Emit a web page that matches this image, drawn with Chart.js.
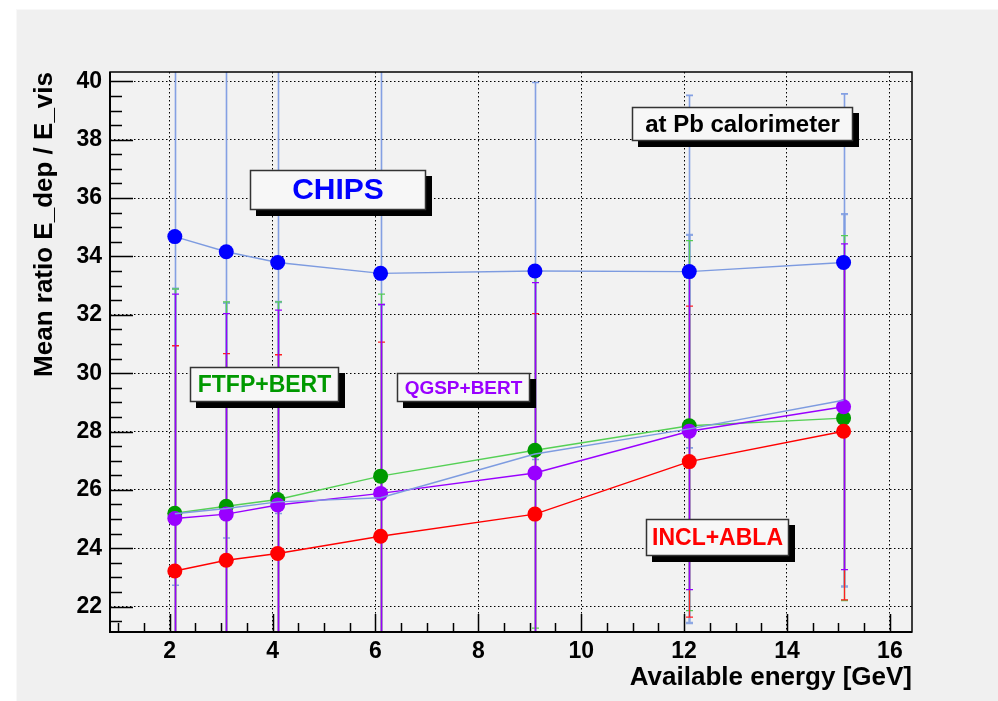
<!DOCTYPE html>
<html>
<head>
<meta charset="utf-8">
<script src="https://cdn.jsdelivr.net/npm/chart.js@4/dist/chart.umd.min.js"></script>
<style>
  html, body { margin: 0; padding: 0; background: #ffffff; }
  #wrap { position: relative; width: 998px; height: 701px; }
  canvas { display: block; }
</style>
</head>
<body>
<div id="wrap"><canvas id="c" width="998" height="701"></canvas></div>
<script>
// Available energy of each measurement point [GeV]
const energies = [2.1, 3.1, 4.1, 6.1, 9.1, 12.1, 15.1];

// Mean ratio E_dep / E_vis per physics list, with the size of the error bars
const chipsValues = [34.68, 34.16, 33.79, 33.42, 33.50, 33.48, 33.79];
const chipsErrors = [11.95, 9.81, 8.60, 7.50, 6.46, 6.04, 5.78];

const ftfpValues = [25.20, 25.44, 25.67, 26.47, 27.36, 28.20, 28.46];
const ftfpErrors = [7.69, 7.00, 6.77, 6.24, 6.10, 6.34, 6.25];

const qgspValues = [25.02, 25.17, 25.48, 25.88, 26.58, 28.01, 28.85];
const qgspErrors = [7.69, 6.87, 6.68, 6.48, 6.52, 5.43, 5.58];

const inclValues = [23.22, 23.59, 23.82, 24.41, 25.17, 26.97, 28.01];
const inclErrors = [7.72, 7.08, 6.81, 6.65, 6.87, 5.33, 5.78];

// Unlabelled reference curve drawn as a thin line only
const refValues = [25.18, 25.36, 25.59, 25.73, 27.23, 28.09, 29.07];
const refErrors = [7.71, 7.05, 6.85, 6.61, 6.30, 6.65, 6.38];

// Axis ranges and tick spacing
const xRange = [0.84, 16.43];
const yRange = [21.13, 40.32];
const majorStep = 2;
const minorStep = 0.5;

// Text panels: label, colour, font size and box in pixels
const panels = [
  { text: 'CHIPS',             color: '#0000ff', size: 30, box: [250, 170, 426, 210] },
  { text: 'at Pb calorimeter', color: '#000000', size: 24, box: [632, 107, 853, 141] },
  { text: 'FTFP+BERT',         color: '#009900', size: 23, box: [190, 367, 339, 402] },
  { text: 'QGSP+BERT',         color: '#9900ff', size: 19, box: [397, 373, 530, 402] },
  { text: 'INCL+ABLA',         color: '#ff0000', size: 23, box: [646, 519, 789, 556] }
];

const FONT = '"Liberation Sans", Arial, Helvetica, sans-serif';

function pts(values) {
  return energies.map((x, i) => ({ x: x, y: values[i] }));
}

// Error bar specs, in drawing order (first is lowest)
const errorBars = [
  { values: refValues,   errors: refErrors,   color: 'rgba(125,155,225,0.85)', width: 2.4 },
  { values: chipsValues, errors: chipsErrors, color: 'rgba(125,155,225,0.95)', width: 1.6 },
  { values: ftfpValues,  errors: ftfpErrors,  color: '#55cc55', width: 1.3 },
  { values: inclValues,  errors: inclErrors,  color: '#ff2020', width: 1.3 },
  { values: qgspValues,  errors: qgspErrors,  color: '#9900ff', width: 1.3 }
];

const padPlugin = {
  id: 'pad',
  beforeDraw(chart) {
    const ctx = chart.ctx;
    ctx.save();
    ctx.fillStyle = '#ffffff';
    ctx.fillRect(0, 0, chart.width, chart.height);
    ctx.fillStyle = '#f0f0f0';
    ctx.fillRect(17, 10, chart.width - 17, chart.height - 10);
    ctx.strokeStyle = '#f8f8f8';
    ctx.lineWidth = 1;
    ctx.strokeRect(16.5, 9.5, chart.width - 16, chart.height - 9);
    const a = chart.chartArea;
    ctx.fillStyle = '#f2f2f2';
    ctx.fillRect(a.left, a.top, a.right - a.left, a.bottom - a.top);
    ctx.restore();
  }
};

const errorBarPlugin = {
  id: 'errorBars',
  beforeDatasetsDraw(chart) {
    const ctx = chart.ctx;
    const xs = chart.scales.x, ys = chart.scales.y;
    const a = chart.chartArea;
    ctx.save();
    ctx.beginPath();
    ctx.rect(a.left, a.top, a.right - a.left, a.bottom - a.top);
    ctx.clip();
    errorBars.forEach(spec => {
      ctx.strokeStyle = spec.color;
      ctx.lineWidth = spec.width;
      energies.forEach((e, i) => {
        const px = Math.round(xs.getPixelForValue(e)) + 0.5;
        const top = ys.getPixelForValue(spec.values[i] + spec.errors[i]);
        const bot = ys.getPixelForValue(spec.values[i] - spec.errors[i]);
        ctx.beginPath();
        ctx.moveTo(px, top);
        ctx.lineTo(px, bot);
        ctx.moveTo(px - 3.5, top);
        ctx.lineTo(px + 3.5, top);
        ctx.moveTo(px - 3.5, bot);
        ctx.lineTo(px + 3.5, bot);
        ctx.stroke();
      });
    });
    ctx.restore();
  }
};

const framePlugin = {
  id: 'frame',
  afterDraw(chart) {
    const ctx = chart.ctx;
    const xs = chart.scales.x, ys = chart.scales.y;
    const a = chart.chartArea;
    ctx.save();
    ctx.strokeStyle = '#000000';

    // Ticks drawn inside the frame along the bottom and left axes
    ctx.lineWidth = 1.5;
    ctx.beginPath();
    for (let v = Math.ceil(xRange[0] / minorStep) * minorStep; v <= xRange[1]; v += minorStep) {
      const px = Math.round(xs.getPixelForValue(v)) + 0.5;
      const major = Math.abs(v / majorStep - Math.round(v / majorStep)) < 1e-6;
      ctx.moveTo(px, a.bottom);
      ctx.lineTo(px, a.bottom - (major ? 18 : 9));
    }
    for (let v = Math.ceil(yRange[0] / minorStep) * minorStep; v <= yRange[1]; v += minorStep) {
      const py = Math.round(ys.getPixelForValue(v)) + 0.5;
      const major = Math.abs(v / majorStep - Math.round(v / majorStep)) < 1e-6;
      ctx.moveTo(a.left, py);
      ctx.lineTo(a.left + (major ? 23 : 12), py);
    }
    ctx.stroke();

    // Frame
    ctx.lineWidth = 1.5;
    ctx.strokeRect(a.left, a.top, a.right - a.left, a.bottom - a.top);
    ctx.lineWidth = 2;
    ctx.beginPath();
    ctx.moveTo(a.left, a.top);
    ctx.lineTo(a.left, a.bottom);
    ctx.lineTo(a.right, a.bottom);
    ctx.stroke();

    // Text panels with drop shadow
    panels.forEach(p => {
      const [x0, y0, x1, y1] = p.box;
      ctx.fillStyle = '#000000';
      ctx.fillRect(x0 + 6, y0 + 6, x1 - x0, y1 - y0);
      ctx.fillStyle = '#f7f7f7';
      ctx.fillRect(x0, y0, x1 - x0, y1 - y0);
      ctx.strokeStyle = '#333333';
      ctx.lineWidth = 1.5;
      ctx.strokeRect(x0 + 0.5, y0 + 0.5, x1 - x0 - 1, y1 - y0 - 1);
      ctx.fillStyle = p.color;
      ctx.font = 'bold ' + p.size + 'px ' + FONT;
      ctx.textAlign = 'center';
      ctx.textBaseline = 'middle';
      ctx.fillText(p.text, (x0 + x1) / 2, (y0 + y1) / 2 + 1);
    });
    ctx.restore();
  }
};

const lineDataset = (label, values, lineColor, markerColor, order, radius) => ({
  label: label,
  data: pts(values),
  showLine: true,
  borderColor: lineColor,
  borderWidth: 1.4,
  backgroundColor: markerColor,
  pointBackgroundColor: markerColor,
  pointBorderColor: markerColor,
  pointBorderWidth: 0,
  pointRadius: radius,
  pointHoverRadius: radius,
  order: order,
  tension: 0
});

new Chart(document.getElementById('c'), {
  type: 'scatter',
  data: {
    datasets: [
      lineDataset('reference', refValues, '#7d9be0', '#7d9be0', 0, 0),
      lineDataset('CHIPS', chipsValues, '#7d9be0', '#0000ff', 1, 7.5),
      lineDataset('QGSP+BERT', qgspValues, '#9900ff', '#9900ff', 2, 7.5),
      lineDataset('INCL+ABLA', inclValues, '#ff0000', '#ff0000', 3, 7.5),
      lineDataset('FTFP+BERT', ftfpValues, '#55d055', '#009900', 4, 7.5)
    ]
  },
  plugins: [padPlugin, errorBarPlugin, framePlugin],
  options: {
    responsive: false,
    animation: false,
    events: [],
    layout: { padding: { left: 0, right: 86, top: 72, bottom: 0 } },
    plugins: { legend: { display: false }, tooltip: { enabled: false } },
    scales: {
      x: {
        type: 'linear',
        min: xRange[0],
        max: xRange[1],
        afterFit(scale) { scale.height = 69; },
        grid: { color: '#000000', lineWidth: 1, drawTicks: false },
        border: { display: false, dash: [1.5, 2.5] },
        ticks: {
          stepSize: majorStep,
          includeBounds: false,
          color: '#000000',
          padding: 6,
          maxRotation: 0,
          font: { family: FONT, size: 23, weight: 'bold' }
        },
        title: {
          display: true,
          text: 'Available energy [GeV]',
          align: 'end',
          color: '#000000',
          padding: { top: 0, bottom: 8 },
          font: { family: FONT, size: 26, weight: 'bold' }
        }
      },
      y: {
        type: 'linear',
        min: yRange[0],
        max: yRange[1],
        afterFit(scale) { scale.width = 110; },
        grid: { color: '#000000', lineWidth: 1, drawTicks: false },
        border: { display: false, dash: [1.5, 2.5] },
        ticks: {
          stepSize: majorStep,
          includeBounds: false,
          color: '#000000',
          padding: 8,
          font: { family: FONT, size: 23, weight: 'bold' }
        },
        title: {
          display: true,
          text: 'Mean ratio E_dep / E_vis',
          align: 'end',
          color: '#000000',
          padding: { top: 29, bottom: 0 },
          font: { family: FONT, size: 26, weight: 'bold' }
        }
      }
    }
  }
});
</script>
</body>
</html>
